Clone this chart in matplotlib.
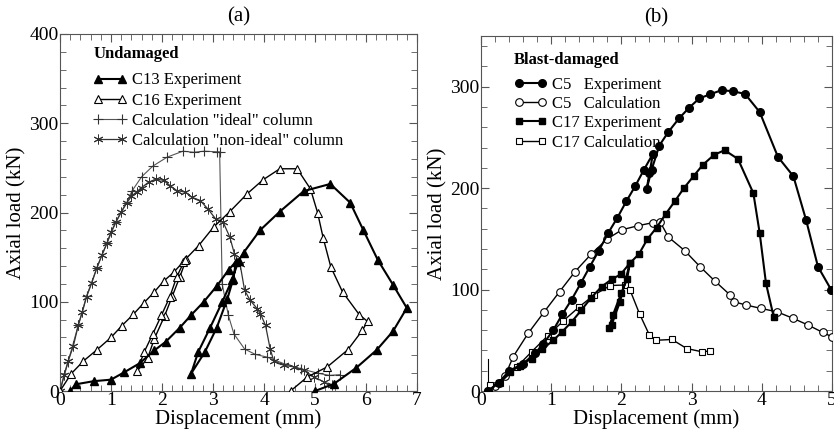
import matplotlib
matplotlib.use("Agg")
import matplotlib.pyplot as plt
from matplotlib.ticker import MultipleLocator

plt.rcParams['font.family'] = ['Liberation Serif', 'DejaVu Serif']
plt.rcParams['mathtext.fontset'] = 'stix'

# ---------- Panel (a): Undamaged ----------
c13_x = [0.20, 0.31, 0.66, 1.00, 1.26, 1.56, 1.85, 2.07, 2.35, 2.57, 2.82, 3.08, 3.31, 3.45,
         3.40, 3.28, 3.07, 2.84, 2.57, 2.71, 2.94, 3.18, 3.37, 3.50, 3.60, 3.92, 4.31, 4.78,
         5.30, 5.69, 5.95, 6.23, 6.53, 6.80, 6.53, 6.21, 5.81, 5.37, 5.00]
c13_y = [0, 7.5, 11, 12.7, 21, 31, 45.5, 55, 71, 85, 100, 118, 136, 145,
         126, 103, 70.5, 43.7, 19.4, 43.7, 70.5, 99.6, 124, 146, 155, 180, 201, 224,
         232, 211, 180, 147, 119, 93, 67, 46, 26, 8, 0]

c16_x = [0, 0.22, 0.46, 0.72, 1.00, 1.21, 1.44, 1.64, 1.85, 2.03, 2.23, 2.41, 2.48,
         2.35, 2.20, 2.05, 1.85, 1.72, 1.51, 1.65, 1.82, 1.99, 2.15, 2.29, 2.45,
         2.72, 3.01, 3.33, 3.67, 3.98, 4.31, 4.65, 4.91, 5.05, 5.16, 5.31, 5.54, 5.87,
         6.03, 5.93, 5.64, 5.24, 4.85, 4.52]
c16_y = [0, 19.4, 33.6, 46, 60, 73, 86, 98.5, 111, 123, 133, 144.4, 148,
         128, 106, 84, 58.6, 37, 22, 43.6, 64, 85, 105, 128, 147,
         163, 183.6, 201, 221, 236.6, 249, 249, 226.5, 200, 171.6, 139, 111, 85.4,
         78, 68, 46, 27, 15.7, 0]

ideal_x = [0, 0.16, 0.36, 0.52, 0.72, 0.92, 1.10, 1.31, 1.41, 1.60, 1.82, 2.10,
           2.41, 2.62, 2.83, 3.08, 3.13, 3.18, 3.30, 3.41, 3.62, 3.83, 4.06, 4.39, 4.72,
           5.05, 5.28, 5.49]
ideal_y = [0, 33, 74, 106, 137.5, 165.5, 189.7, 211, 224, 240, 252, 262,
           268.7, 267.5, 268.7, 268, 268, 120, 85, 64, 47, 41, 38, 30.6, 25,
           20, 17.5, 18.3]

nonideal_x = [0, 0.08, 0.16, 0.26, 0.36, 0.44, 0.52, 0.62, 0.72, 0.82, 0.92, 1.00, 1.10,
              1.20, 1.31, 1.40, 1.50, 1.60, 1.74, 1.89, 2.03, 2.16, 2.29, 2.46, 2.59, 2.75, 2.90,
              3.05, 3.20, 3.33, 3.42, 3.53, 3.62, 3.73, 3.87, 3.93, 4.03, 4.12, 4.19, 4.39,
              4.59, 4.78, 4.98, 5.18, 5.34]
nonideal_y = [0, 18, 33.6, 50, 74, 88.8, 105.7, 120.6, 137.5, 152.4, 165.5, 178.5, 189.7,
              201, 211, 218, 223, 228, 234, 237.5, 236, 230, 224.6, 222.8, 217, 213.4, 204,
              193, 189, 172.4, 153.7, 142.5, 112.7, 101.5, 92, 86.6, 73.5, 47.4, 34, 28.7,
              27, 23, 15.7, 10, 6.3]

# ---------- Panel (b): Blast-damaged ----------
c5e_x = [0.10, 0.25, 0.40, 0.60, 0.77, 0.89, 1.03, 1.16, 1.29, 1.42, 1.55, 1.68, 1.81, 1.94,
         2.07, 2.20, 2.32, 2.45, 2.40, 2.36, 2.43, 2.54, 2.67, 2.82, 2.96, 3.11, 3.26, 3.43,
         3.59, 3.76, 3.97, 4.23, 4.45, 4.63, 4.80, 4.99]
c5e_y = [0, 8, 19.8, 27, 37, 46.8, 60, 75.8, 90, 106, 122.6, 138.5, 155.6, 170.5,
         187, 202.4, 218, 234, 215, 199, 218, 242, 255.5, 268.7, 279, 288.5, 292.4, 296.7,
         295.4, 293, 275, 230.8, 211.7, 168.8, 122.6, 99.6]

c5c_x = [0.10, 0.20, 0.34, 0.46, 0.67, 0.90, 1.12, 1.34, 1.57, 1.80, 2.01, 2.24, 2.45, 2.55,
         2.67, 2.90, 3.12, 3.33, 3.55, 3.60, 3.78, 3.99, 4.22, 4.45, 4.66, 4.87, 5.00]
c5c_y = [0, 5, 14.5, 34, 56.7, 78, 98, 117.7, 135, 150, 159, 163, 166, 167,
         151.7, 138.5, 122.6, 108.5, 94.6, 88, 84.7, 81.4, 78, 71.5, 65, 57.7, 53.4]

c17e_x = [0.10, 0.25, 0.42, 0.55, 0.72, 0.87, 1.03, 1.15, 1.29, 1.43, 1.57, 1.72, 1.86, 1.99,
          2.12, 2.08, 2.00, 1.88, 1.82, 1.86, 1.98, 2.12, 2.25, 2.37, 2.50, 2.63, 2.76, 2.89,
          3.03, 3.16, 3.32, 3.47, 3.66, 3.88, 3.97, 4.06, 4.17]
c17e_y = [0, 8, 18.8, 25, 32, 41, 50, 58, 68, 79.8, 92, 103, 110, 115,
          126, 110, 97, 75, 62, 65, 88, 126, 135, 149.7, 161, 174.4, 187, 200,
          212, 223, 232.8, 237.4, 228.8, 195, 155.6, 106, 73]

c17c_x = [0.10, 0.13, 0.27, 0.51, 0.72, 0.95, 1.17, 1.40, 1.61, 1.84, 2.05, 2.12, 2.26, 2.40,
          2.49, 2.72, 2.93, 3.15, 3.26]
c17c_y = [0, 5.6, 8, 23.7, 38.6, 54.4, 69, 83, 94.6, 104, 104.5, 100, 75.8, 55,
          50, 50.8, 41.9, 38.6, 39.5]

stray_x = [0.095, 0.095]
stray_y = [0, 32]

fig = plt.figure(figsize=(8.34, 4.34), dpi=100)
axA = fig.add_axes([60/834, 1-391/434, (417-60)/834, (391-34)/434])
axB = fig.add_axes([481/834, 1-391/434, (832-481)/834, (391-36)/434])

ms = 5.5
asterisk = (6, 2, 0)
axA.plot(c13_x, c13_y, '-', color='black', lw=1.5, marker='^', ms=ms, mfc='black', mec='black',
         label='C13 Experiment', zorder=4)
axA.plot(c16_x, c16_y, '-', color='black', lw=1.0, marker='^', ms=ms, mfc='white', mec='black',
         mew=0.8, label='C16 Experiment', zorder=3)
axA.plot(ideal_x, ideal_y, '-', color='#555555', lw=0.8, marker='+', ms=7, mew=0.8,
         mec='#333333', label='Calculation "ideal" column', zorder=2)
axA.plot(nonideal_x, nonideal_y, '-', color='#333333', lw=0.9, marker=asterisk, ms=7, mew=0.7,
         mec='#333333', label='Calculation "non-ideal" column', zorder=2)

axB.plot(c5e_x, c5e_y, '-', color='black', lw=1.5, marker='o', ms=ms, mfc='black', mec='black',
         label='C5   Experiment', zorder=4)
axB.plot(c5c_x, c5c_y, '-', color='black', lw=1.0, marker='o', ms=ms, mfc='white', mec='black',
         mew=0.8, label='C5   Calculation', zorder=3)
axB.plot(c17e_x, c17e_y, '-', color='black', lw=1.5, marker='s', ms=5, mfc='black', mec='black',
         label='C17 Experiment', zorder=4)
axB.plot(c17c_x, c17c_y, '-', color='black', lw=1.0, marker='s', ms=5, mfc='white', mec='black',
         mew=0.8, label='C17 Calculation', zorder=3)
axB.plot(stray_x, stray_y, '-', color='black', lw=0.8)

axA.set_xlim(0, 7)
axA.set_ylim(0, 400)
axB.set_xlim(0, 5)
axB.set_ylim(0, 350)

for ax in (axA, axB):
    ax.xaxis.set_major_locator(MultipleLocator(1))
    ax.xaxis.set_minor_locator(MultipleLocator(0.2))
    ax.yaxis.set_major_locator(MultipleLocator(100))
    ax.yaxis.set_minor_locator(MultipleLocator(20))
    ax.tick_params(which='both', direction='in', top=True, right=True, labelsize=14, pad=1)
    ax.tick_params(which='major', length=6, width=0.8, color='#555555')
    ax.tick_params(which='minor', length=4, width=0.6, color='#555555')
    for s in ax.spines.values():
        s.set_color('#555555')
        s.set_linewidth(0.8)
    ax.set_xlabel('Displacement (mm)', fontsize=15, labelpad=0)
    ax.set_ylabel('Axial load (kN)', fontsize=15, labelpad=2)

axA.set_title('(a)', fontsize=15, pad=9)
axB.set_title('(b)', fontsize=15, pad=10)

legA = axA.legend(loc='upper left', bbox_to_anchor=(0.075, 0.985), frameon=False, numpoints=2,
                  title='Undamaged', title_fontproperties={'weight': 'bold', 'size': 12},
                  fontsize=12, handlelength=2.0, handletextpad=0.3, labelspacing=0.25,
                  borderaxespad=0)
legA._legend_box.align = 'left'
legA._legend_box.sep = 7.5
legB = axB.legend(loc='upper left', bbox_to_anchor=(0.075, 0.975), frameon=False, numpoints=2,
                  title='Blast-damaged', title_fontproperties={'weight': 'bold', 'size': 12},
                  fontsize=12, handlelength=2.0, handletextpad=0.3, labelspacing=0.2,
                  borderaxespad=0)
legB._legend_box.align = 'left'
legB._legend_box.sep = 6.5

fig.savefig('out.png', dpi=100)
